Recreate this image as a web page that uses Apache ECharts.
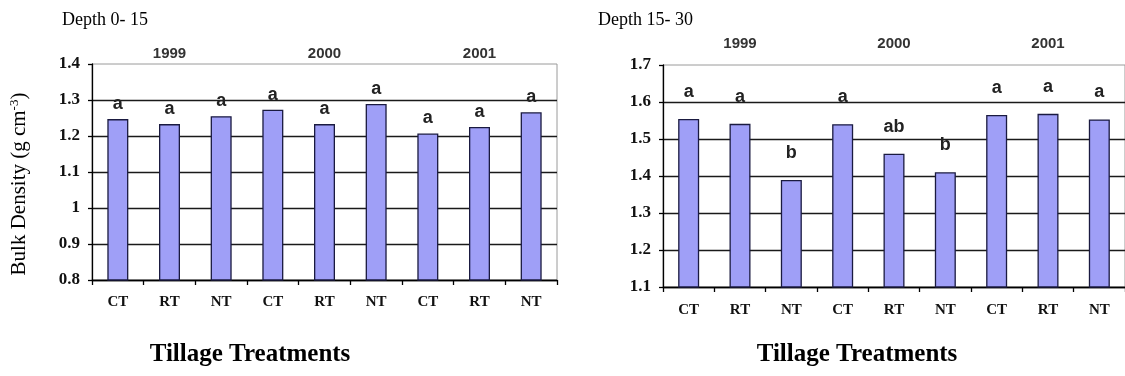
<!DOCTYPE html>
<html>
<head>
<meta charset="utf-8">
<script src="https://cdn.jsdelivr.net/npm/echarts@6/dist/echarts.min.js"></script>
<style>
  html, body { margin: 0; padding: 0; background: #fff; }
  #chart { width: 1125px; height: 376px; }
</style>
</head>
<body>
<div id="chart"></div>
<script>
// Tillage treatments within each year
const categories = ['CT', 'RT', 'NT', 'CT', 'RT', 'NT', 'CT', 'RT', 'NT'];
const years = ['1999', '2000', '2001'];

// Bulk density (g cm-3) per treatment, depth 0-15 cm and 15-30 cm
const density0to15 = [1.247, 1.233, 1.255, 1.273, 1.233, 1.289, 1.207, 1.225, 1.266];
const density15to30 = [1.554, 1.541, 1.389, 1.540, 1.460, 1.410, 1.565, 1.568, 1.553];

// Mean separation letters
const letters0to15 = ['a', 'a', 'a', 'a', 'a', 'a', 'a', 'a', 'a'];
const letters15to30 = ['a', 'a', 'b', 'a', 'ab', 'b', 'a', 'a', 'a'];

// Value axis ranges
const axis0to15 = { min: 0.8, max: 1.4, interval: 0.1 };
const axis15to30 = { min: 1.1, max: 1.7, interval: 0.1 };

const serif = '"Liberation Serif", "Times New Roman", serif';
const sans = '"Liberation Sans Narrow", "Liberation Sans", Arial, sans-serif';
const barFill = '#9f9ff7';

function valueAxis(gridIndex, range) {
  return {
    type: 'value', gridIndex: gridIndex,
    min: range.min, max: range.max, interval: range.interval,
    axisLine: { show: true, lineStyle: { color: '#000', width: 1.3 } },
    axisTick: { show: true, length: 4, lineStyle: { color: '#000', width: 1.3 } },
    axisLabel: { color: '#111', fontFamily: serif, fontWeight: 'bold', fontSize: 17, margin: 12 },
    splitLine: { show: true, showMaxLine: false, lineStyle: { color: '#1a1a1a', width: 1.3 } }
  };
}

function categoryAxis(gridIndex, margin) {
  return {
    type: 'category', gridIndex: gridIndex, data: categories,
    axisLine: { show: true, lineStyle: { color: '#000', width: 1.3 } },
    axisTick: { show: true, length: 5, alignWithLabel: false, lineStyle: { color: '#000', width: 1.3 } },
    axisLabel: { color: '#111', fontFamily: serif, fontWeight: 'bold', fontSize: 15, margin: margin }
  };
}

function yearAxis(gridIndex, margin) {
  return {
    type: 'category', gridIndex: gridIndex, data: years, position: 'top',
    axisLine: { show: false }, axisTick: { show: false },
    axisLabel: { color: '#333', fontFamily: sans, fontWeight: 'bold', fontSize: 15, margin: margin }
  };
}

function barSeries(index, values, letters, distance) {
  return {
    type: 'bar', xAxisIndex: index * 2, yAxisIndex: index,
    data: values, barWidth: 21,
    itemStyle: { color: barFill, borderColor: '#1a1a40', borderWidth: 1.3 },
    label: {
      show: true, position: 'top', distance: distance,
      formatter: p => letters[p.dataIndex],
      color: '#222', fontFamily: sans, fontWeight: 'bold', fontSize: 18
    },
    silent: true
  };
}

const chart = echarts.init(document.getElementById('chart'), null, { renderer: 'canvas' });

chart.setOption({
  animation: false,
  backgroundColor: '#fff',
  grid: [
    { left: 92, top: 64, width: 465, height: 216, show: true, borderColor: '#9a9a9a', borderWidth: 1, backgroundColor: 'transparent' },
    { left: 663, top: 65, width: 469, height: 222, show: true, borderColor: '#9a9a9a', borderWidth: 1, backgroundColor: 'transparent' }
  ],
  xAxis: [
    categoryAxis(0, 15), yearAxis(0, 3),
    categoryAxis(1, 16), yearAxis(1, 14)
  ],
  yAxis: [valueAxis(0, axis0to15), valueAxis(1, axis15to30)],
  series: [
    barSeries(0, density0to15, letters0to15, 6),
    barSeries(1, density15to30, letters15to30, 18)
  ],
  graphic: [
    { type: 'text', x: 62, y: 20, style: { text: 'Depth 0- 15', font: '18px ' + serif, fill: '#000', verticalAlign: 'middle' } },
    { type: 'text', x: 598, y: 20, style: { text: 'Depth 15- 30', font: '18px ' + serif, fill: '#000', verticalAlign: 'middle' } },
    { type: 'text', x: 250, y: 355, style: { text: 'Tillage Treatments', font: 'bold 25px ' + serif, fill: '#000', align: 'center', verticalAlign: 'middle' } },
    { type: 'text', x: 857, y: 355, style: { text: 'Tillage Treatments', font: 'bold 25px ' + serif, fill: '#000', align: 'center', verticalAlign: 'middle' } },
    {
      type: 'text', x: 19, y: 184, rotation: Math.PI / 2,
      style: {
        text: '{n|Bulk Density (g cm}{s|-3}{n|)}',
        align: 'center', verticalAlign: 'middle',
        rich: {
          n: { fontFamily: serif, fontSize: 21, fill: '#000', color: '#000' },
          s: { fontFamily: serif, fontSize: 13, fill: '#000', color: '#000', padding: [0, 0, 9, 0] }
        }
      }
    }
  ]
});
</script>
</body>
</html>
